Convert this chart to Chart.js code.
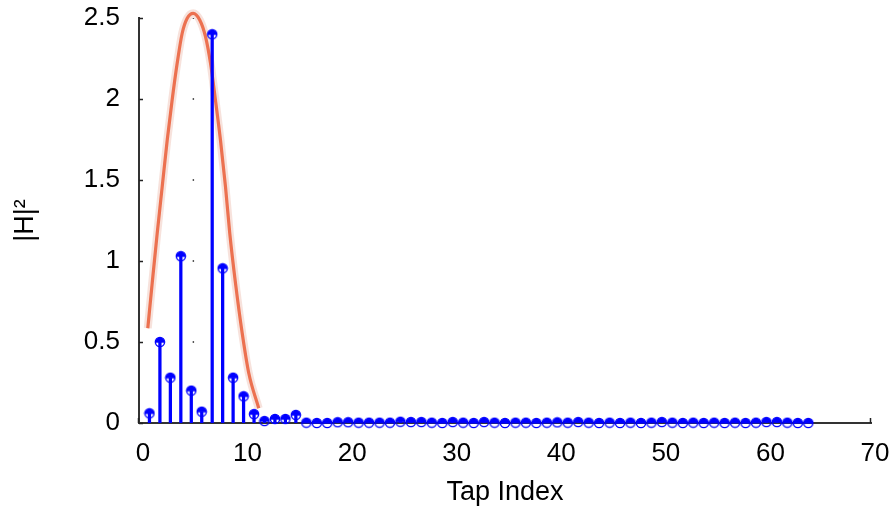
<!DOCTYPE html>
<html lang="en">
<head>
<meta charset="UTF-8" />
<title>Tap Power</title>
<script src="https://cdn.jsdelivr.net/npm/chart.js"></script>
<style>
  html, body { margin: 0; padding: 0; background: #fff; }
  #wrap { width: 892px; height: 509px; }
</style>
</head>
<body>
<div id="wrap"><canvas id="tapChart" width="892" height="509"></canvas></div>
<script>
// filter taps and their power |H|^2
const tapIndex = [1, 2, 3, 4, 5, 6, 7, 8, 9, 10, 11, 12, 13, 14, 15, 16,
  17, 18, 19, 20, 21, 22, 23, 24, 25, 26, 27, 28, 29, 30, 31, 32,
  33, 34, 35, 36, 37, 38, 39, 40, 41, 42, 43, 44, 45, 46, 47, 48,
  49, 50, 51, 52, 53, 54, 55, 56, 57, 58, 59, 60, 61, 62, 63, 64];
const tapPower = [0.06, 0.50, 0.28, 1.03, 0.20, 0.07, 2.40, 0.955, 0.28, 0.165, 0.055, 0.012, 0.025, 0.025, 0.05, 0.002,
  0, 0, 0.005, 0.005, 0.002, 0.002, 0.002, 0.002, 0.008, 0.006, 0.006, 0.002, 0, 0.006, 0.002, 0,
  0.006, 0.002, 0, 0.002, 0.002, 0, 0.002, 0.004, 0.002, 0.006, 0.002, 0, 0.002, 0, 0.002, 0,
  0.002, 0.006, 0.002, 0, 0.002, 0, 0.002, 0, 0.002, 0, 0.002, 0.006, 0.006, 0.002, 0, 0];

// smooth envelope drawn over the first taps
const envelopeX = [0.84, 1.26, 1.74, 2.22, 2.70, 3.17, 3.65, 4.13, 4.61, 5.18, 5.81,
  6.36, 6.84, 7.31, 7.79, 8.27, 8.68, 9.23, 9.87, 10.50, 11.45];
const envelopeY = [0.585, 0.862, 1.171, 1.459, 1.747, 1.994, 2.220, 2.406, 2.498, 2.529, 2.488,
  2.385, 2.220, 1.994, 1.747, 1.459, 1.171, 0.862, 0.554, 0.307, 0.091];

// little tick dots standing at the envelope peak
const peakMarkX = [5.2, 5.2, 5.2, 5.2, 5.2];
const peakMarkY = [0.5, 1, 1.5, 2, 2.5];

const xTicks = [0, 10, 20, 30, 40, 50, 60, 70];
const yTicks = [0, 0.5, 1, 1.5, 2, 2.5];

const BLUE = '#0000ff';
const FONT = 'Liberation Sans, Arial, Helvetica, sans-serif';

// stem head: filled top half, open bottom half with a bar across
function stemHead() {
  const c = document.createElement('canvas');
  c.width = 12; c.height = 12;
  const g = c.getContext('2d');
  g.strokeStyle = BLUE; g.fillStyle = BLUE; g.lineWidth = 1.4;
  g.beginPath(); g.arc(6, 6, 4.6, Math.PI, 2 * Math.PI); g.closePath(); g.fill();
  g.beginPath(); g.arc(6, 6, 4.6, 0, 2 * Math.PI); g.stroke();
  g.beginPath(); g.moveTo(1.4, 6); g.lineTo(10.6, 6); g.stroke();
  return c;
}

const pts = (xs, ys) => xs.map((x, i) => ({ x, y: ys[i] }));

// short ticks pointing into the plot
const inwardTicks = {
  id: 'inwardTicks',
  beforeDatasetsDraw(chart) {
    const { ctx, chartArea, scales } = chart;
    ctx.save();
    ctx.strokeStyle = '#222';
    ctx.lineWidth = 1.5;
    ctx.beginPath();
    scales.y.ticks.forEach(t => {
      const y = Math.round(scales.y.getPixelForValue(t.value)) + 0.5;
      ctx.moveTo(chartArea.left, y); ctx.lineTo(chartArea.left + 4, y);
    });
    scales.x.ticks.forEach(t => {
      const x = Math.round(scales.x.getPixelForValue(t.value)) - 0.5;
      ctx.moveTo(x, chartArea.bottom); ctx.lineTo(x, chartArea.bottom - 5);
    });
    ctx.stroke();
    ctx.restore();
  }
};

new Chart(document.getElementById('tapChart'), {
  type: 'scatter',
  data: {
    datasets: [
      {
        type: 'scatter',
        data: pts(tapIndex, tapPower),
        pointStyle: stemHead(),
        pointRadius: 6,
        clip: false,
        order: 0
      },
      {
        type: 'bar',
        data: pts(tapIndex, tapPower),
        backgroundColor: BLUE,
        barThickness: 2.6,
        order: 1
      },
      {
        type: 'line',
        data: pts(envelopeX, envelopeY),
        borderColor: '#ec7150',
        borderWidth: 3.2,
        pointRadius: 0,
        cubicInterpolationMode: 'monotone',
        clip: false,
        order: 2
      },
      {
        type: 'line',
        data: pts(envelopeX, envelopeY),
        borderColor: 'rgba(225, 150, 130, 0.28)',
        borderWidth: 8,
        pointRadius: 0,
        cubicInterpolationMode: 'monotone',
        clip: false,
        order: 3
      },
      {
        type: 'scatter',
        data: pts(peakMarkX, peakMarkY),
        pointStyle: 'rect',
        pointRadius: 1,
        backgroundColor: '#111',
        borderWidth: 0,
        order: 4
      }
    ]
  },
  options: {
    responsive: false,
    devicePixelRatio: 1,
    animation: false,
    layout: { padding: { left: 0, right: 21, top: 18, bottom: 0 } },
    plugins: { legend: { display: false }, tooltip: { enabled: false } },
    scales: {
      x: {
        type: 'linear',
        min: 0,
        max: 70,
        offset: false,
        afterBuildTicks: s => { s.ticks = xTicks.map(v => ({ value: v })); },
        afterFit: s => { s.height = 86; s.paddingLeft = 0; s.paddingRight = 0; },
        grid: { display: false, drawTicks: false },
        border: { display: true, color: '#333', width: 2 },
        ticks: {
          color: '#000', font: { family: FONT, size: 26 }, padding: 15, labelOffset: 4, maxRotation: 0,
          callback: v => String(v)
        },
        title: {
          display: true,
          text: 'Tap Index',
          color: '#000',
          font: { family: FONT, size: 27, lineHeight: 1 },
          padding: { top: 0, bottom: 3 }
        }
      },
      y: {
        type: 'linear',
        min: 0,
        max: 2.5,
        afterBuildTicks: s => { s.ticks = yTicks.map(v => ({ value: v })); },
        afterFit: s => { s.width = 139; s.paddingTop = 0; s.paddingBottom = 0; },
        grid: { display: false, drawTicks: false },
        border: { display: true, color: '#333', width: 2 },
        ticks: { color: '#000', font: { family: FONT, size: 26 }, padding: 19, callback: v => String(v) },
        title: {
          display: true,
          text: '|H|²',
          color: '#000',
          font: { family: FONT, size: 27, lineHeight: 1 },
          padding: { top: 12, bottom: 0 }
        }
      }
    }
  },
  plugins: [inwardTicks]
});
</script>
</body>
</html>
